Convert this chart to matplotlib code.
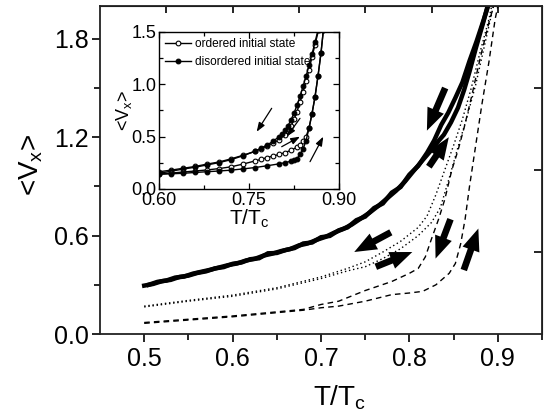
import matplotlib
matplotlib.use("Agg")
import matplotlib.pyplot as plt
from matplotlib.ticker import FixedLocator

plt.rcParams['font.family'] = ['Liberation Sans', 'DejaVu Sans']
plt.rcParams['mathtext.fontset'] = 'custom'
plt.rcParams['mathtext.rm'] = 'Liberation Sans'
plt.rcParams['mathtext.it'] = 'Liberation Sans'

# ---------------- main panel data ----------------
T_thick_cool = [0.50, 0.51, 0.52, 0.53, 0.54, 0.55, 0.56, 0.57, 0.58, 0.59, 0.60,
                0.61, 0.62, 0.63, 0.64, 0.65, 0.66, 0.67, 0.68, 0.69, 0.70, 0.71,
                0.72, 0.73, 0.74, 0.75, 0.76, 0.77, 0.78, 0.79, 0.80, 0.81, 0.82,
                0.828, 0.836, 0.844, 0.852, 0.860, 0.868, 0.876, 0.884, 0.892]
V_thick_cool = [0.295, 0.305, 0.322, 0.330, 0.348, 0.356, 0.372, 0.382, 0.400, 0.408, 0.428,
                0.436, 0.456, 0.462, 0.492, 0.494, 0.512, 0.524, 0.552, 0.558, 0.590, 0.598,
                0.632, 0.650, 0.694, 0.716, 0.768, 0.796, 0.862, 0.896, 0.972, 1.025, 1.105,
                1.180, 1.275, 1.350, 1.440, 1.535, 1.665, 1.785, 1.915, 2.05]

T_thick_heat = [0.505, 0.515, 0.525, 0.535, 0.545, 0.555, 0.565, 0.575, 0.585, 0.595,
                0.605, 0.615, 0.625, 0.635, 0.645, 0.655, 0.665, 0.675, 0.685, 0.695,
                0.705, 0.715, 0.725, 0.735, 0.745, 0.755, 0.765, 0.775, 0.785, 0.795,
                0.805, 0.815, 0.823, 0.831, 0.839, 0.847, 0.855, 0.862, 0.868, 0.875,
                0.883, 0.891]
V_thick_heat = [0.300, 0.318, 0.326, 0.344, 0.350, 0.368, 0.380, 0.392, 0.406, 0.420,
                0.430, 0.448, 0.458, 0.478, 0.490, 0.506, 0.518, 0.540, 0.552, 0.574,
                0.592, 0.618, 0.640, 0.668, 0.704, 0.740, 0.782, 0.828, 0.874, 0.930,
                0.996, 1.060, 1.110, 1.165, 1.215, 1.290, 1.380, 1.490, 1.600, 1.740,
                1.890, 2.05]

T_dot_cool = [0.50, 0.55, 0.60, 0.65, 0.70, 0.73, 0.75, 0.77, 0.79, 0.81, 0.82, 0.83,
              0.84, 0.85, 0.86, 0.87, 0.88, 0.89, 0.895]
V_dot_cool = [0.170, 0.205, 0.237, 0.282, 0.348, 0.400, 0.440, 0.500, 0.565, 0.650, 0.720,
              0.850, 1.000, 1.150, 1.310, 1.500, 1.720, 1.920, 2.05]

T_dot_heat = [0.50, 0.55, 0.60, 0.65, 0.70, 0.73, 0.75, 0.77, 0.79, 0.81, 0.825, 0.835,
              0.845, 0.855, 0.865, 0.875, 0.885, 0.895, 0.90]
V_dot_heat = [0.165, 0.200, 0.230, 0.275, 0.338, 0.385, 0.410, 0.460, 0.520, 0.600, 0.680,
              0.770, 0.950, 1.140, 1.320, 1.520, 1.760, 2.000, 2.10]

T_dash_cool = [0.50, 0.55, 0.60, 0.65, 0.68, 0.70, 0.72, 0.75, 0.78, 0.80, 0.81, 0.818,
               0.825, 0.833, 0.84, 0.848, 0.855, 0.862, 0.87, 0.88, 0.89, 0.898]
V_dash_cool = [0.070, 0.090, 0.110, 0.135, 0.150, 0.180, 0.200, 0.265, 0.320, 0.370, 0.400,
               0.470, 0.580, 0.700, 0.820, 1.000, 1.120, 1.260, 1.440, 1.680, 1.900, 2.05]

T_dash_heat = [0.50, 0.55, 0.60, 0.65, 0.68, 0.70, 0.72, 0.75, 0.78, 0.80, 0.815, 0.83,
               0.845, 0.852, 0.858, 0.863, 0.868, 0.875, 0.882, 0.89, 0.897, 0.902]
V_dash_heat = [0.065, 0.085, 0.105, 0.130, 0.145, 0.160, 0.170, 0.200, 0.240, 0.250, 0.260,
               0.300, 0.370, 0.430, 0.550, 0.700, 0.900, 1.150, 1.400, 1.660, 1.920, 2.05]

# arrows in main panel: (tail T, tail V, head T, head V)
main_arrows = [(0.8405, 1.50, 0.8198, 1.24),
               (0.822, 1.02, 0.8446, 1.20),
               (0.779, 0.62, 0.7376, 0.50),
               (0.762, 0.41, 0.8033, 0.50),
               (0.8465, 0.70, 0.8296, 0.46),
               (0.8615, 0.39, 0.878, 0.643)]

main_xticks = [0.5, 0.6, 0.7, 0.8, 0.9]
main_xminor = [0.55, 0.65, 0.75, 0.85, 0.95]
main_yticks = [0.0, 0.6, 1.2, 1.8]
main_yminor = [0.3, 0.9, 1.5]
top_ticks = [0.525, 0.6, 0.675, 0.75, 0.825, 0.9]
right_ticks = [0.5, 1.0, 1.5]

# ---------------- inset data ----------------
T_ord_cool = [0.60, 0.62, 0.64, 0.66, 0.68, 0.70, 0.72, 0.74, 0.76, 0.77, 0.78, 0.79,
              0.80, 0.81, 0.815, 0.82, 0.825, 0.83, 0.835, 0.84, 0.845, 0.85, 0.855,
              0.86, 0.866]
V_ord_cool = [0.165, 0.180, 0.198, 0.215, 0.238, 0.258, 0.288, 0.322, 0.360, 0.385, 0.410,
              0.440, 0.470, 0.520, 0.555, 0.600, 0.665, 0.740, 0.830, 0.930, 1.030, 1.140,
              1.260, 1.380, 1.520]

T_dis_cool = [0.60, 0.62, 0.64, 0.66, 0.68, 0.70, 0.72, 0.74, 0.76, 0.77, 0.78, 0.79,
              0.80, 0.805, 0.81, 0.815, 0.82, 0.825, 0.83, 0.835, 0.84, 0.845, 0.85,
              0.855, 0.86, 0.865]
V_dis_cool = [0.150, 0.170, 0.190, 0.208, 0.230, 0.252, 0.280, 0.318, 0.360, 0.390, 0.420,
              0.455, 0.500, 0.530, 0.560, 0.605, 0.660, 0.725, 0.800, 0.885, 0.980, 1.075,
              1.180, 1.290, 1.400, 1.520]

T_ord_heat = [0.60, 0.62, 0.64, 0.66, 0.68, 0.70, 0.72, 0.74, 0.76, 0.77, 0.78, 0.79,
              0.80, 0.81, 0.82, 0.83, 0.835, 0.84, 0.845, 0.85, 0.855, 0.86, 0.865,
              0.87, 0.874]
V_ord_heat = [0.145, 0.152, 0.162, 0.172, 0.182, 0.195, 0.212, 0.238, 0.268, 0.283, 0.300,
              0.315, 0.330, 0.348, 0.370, 0.400, 0.425, 0.455, 0.500, 0.580, 0.720, 0.880,
              1.080, 1.300, 1.520]

T_dis_heat = [0.60, 0.62, 0.64, 0.66, 0.68, 0.70, 0.72, 0.74, 0.76, 0.78, 0.80, 0.81,
              0.82, 0.825, 0.83, 0.835, 0.84, 0.845, 0.85, 0.855, 0.86, 0.865, 0.87,
              0.874]
V_dis_heat = [0.140, 0.145, 0.150, 0.158, 0.165, 0.172, 0.180, 0.192, 0.205, 0.222, 0.240,
              0.252, 0.265, 0.275, 0.290, 0.330, 0.380, 0.460, 0.580, 0.720, 0.880, 1.080,
              1.300, 1.520]

inset_arrows = [(0.7878, 0.771, 0.7628, 0.547),
                (0.835, 0.675, 0.8128, 0.50),
                (0.8045, 0.404, 0.835, 0.50),
                (0.8517, 0.261, 0.8738, 0.50)]

inset_xticks = [0.60, 0.75, 0.90]
inset_xminor = [0.675, 0.825]
inset_yticks = [0.0, 0.5, 1.0, 1.5]
inset_yminor = [0.25, 0.75, 1.25]
legend_labels = ['ordered initial state', 'disordered initial state']

# ---------------- figure ----------------
W, H = 547, 409
fig = plt.figure(figsize=(W / 100, H / 100), dpi=100)
ax = fig.add_axes([100 / W, 1 - 334 / H, 442 / W, 328 / H])

ax.plot(T_thick_cool, V_thick_cool, color='k', lw=3.2, solid_joinstyle='miter')
ax.plot(T_thick_heat, V_thick_heat, color='k', lw=3.2, solid_joinstyle='miter')
ax.plot(T_dot_cool, V_dot_cool, color='k', lw=1.0, ls=(0, (1, 2)))
ax.plot(T_dot_heat, V_dot_heat, color='k', lw=1.0, ls=(0, (1, 2)))
ax.plot(T_dash_cool, V_dash_cool, color='k', lw=1.0, ls=(0, (4, 3)))
ax.plot(T_dash_heat, V_dash_heat, color='k', lw=1.0, ls=(0, (4, 3)))

for t0, v0, t1, v1 in main_arrows:
    ax.annotate('', xy=(t1, v1), xytext=(t0, v0),
                arrowprops=dict(arrowstyle='simple,head_length=1.0,head_width=0.8,tail_width=0.3',
                                lw=0, fc='k', ec='k', mutation_scale=16,
                                shrinkA=0, shrinkB=0))

ax.set_xlim(0.45, 0.95)
ax.set_ylim(0.0, 2.0)
ax.xaxis.set_major_locator(FixedLocator(main_xticks))
ax.xaxis.set_minor_locator(FixedLocator(main_xminor))
ax.yaxis.set_major_locator(FixedLocator(main_yticks))
ax.yaxis.set_minor_locator(FixedLocator(main_yminor))
ax.set_xticklabels([f'{v:.1f}' for v in main_xticks])
ax.set_yticklabels([f'{v:.1f}' for v in main_yticks])
ax.tick_params(which='major', direction='out', length=6, width=1.2, labelsize=18, pad=3)
ax.tick_params(axis='y', which='major', pad=2)
ax.tick_params(which='minor', direction='out', length=4, width=1.2)
for s in ax.spines.values():
    s.set_linewidth(1.3)
    s.set_color('#222222')

axt = ax.secondary_xaxis('top')
axt.set_xticks(top_ticks)
axt.set_xticklabels([])
axt.tick_params(direction='in', length=5, width=1.2)
axr = ax.secondary_yaxis('right')
axr.set_yticks(right_ticks)
axr.set_yticklabels([])
axr.tick_params(direction='in', length=6, width=1.2)

fig.text(313 / W, 1 - 405 / H, r'T/T$_\mathregular{c}$', fontsize=20,
         ha='left', va='baseline')
fig.text(31 / W, 1 - 165 / H, r'<V$_\mathregular{x}$>', fontsize=20,
         rotation=90, ha='center', va='center')

# ---------------- inset ----------------
axi = fig.add_axes([159 / W, 1 - 189 / H, 180 / W, 157 / H])
axi.plot(T_ord_cool, V_ord_cool, color='k', lw=1.0, marker='o', ms=3.4,
         mfc='white', mec='k', mew=0.8, label=legend_labels[0])
axi.plot(T_dis_cool, V_dis_cool, color='k', lw=1.0, marker='o', ms=3.4,
         mfc='k', mec='k', mew=0.8, label=legend_labels[1])
axi.plot(T_ord_heat, V_ord_heat, color='k', lw=1.0, marker='o', ms=3.4,
         mfc='white', mec='k', mew=0.8)
axi.plot(T_dis_heat, V_dis_heat, color='k', lw=1.0, marker='o', ms=3.4,
         mfc='k', mec='k', mew=0.8)

for t0, v0, t1, v1 in inset_arrows:
    axi.annotate('', xy=(t1, v1), xytext=(t0, v0),
                 arrowprops=dict(arrowstyle='-|>,head_length=0.6,head_width=0.22',
                                 lw=0.9, color='k', mutation_scale=9,
                                 shrinkA=0, shrinkB=0))

axi.set_xlim(0.60, 0.90)
axi.set_ylim(0.0, 1.5)
axi.xaxis.set_major_locator(FixedLocator(inset_xticks))
axi.xaxis.set_minor_locator(FixedLocator(inset_xminor))
axi.yaxis.set_major_locator(FixedLocator(inset_yticks))
axi.yaxis.set_minor_locator(FixedLocator(inset_yminor))
axi.set_xticklabels([f'{v:.2f}' for v in inset_xticks])
axi.set_yticklabels([f'{v:.1f}' for v in inset_yticks])
axi.tick_params(which='both', direction='in', top=True, right=True, width=0.9)
axi.tick_params(which='major', length=4, labelsize=13, pad=2)
axi.tick_params(which='minor', length=3)
for s in axi.spines.values():
    s.set_linewidth(1.0)
axi.set_xlabel(r'T/T$_\mathregular{c}$', fontsize=15, labelpad=-1)
axi.set_ylabel(r'<V$_\mathregular{x}$>', fontsize=13, labelpad=-2)
axi.legend(loc='upper left', frameon=False, fontsize=8.6, handlelength=2.2,
           handletextpad=0.3, borderaxespad=0.3, labelspacing=0.5,
           borderpad=0.2)

fig.savefig('out.png', dpi=100)
